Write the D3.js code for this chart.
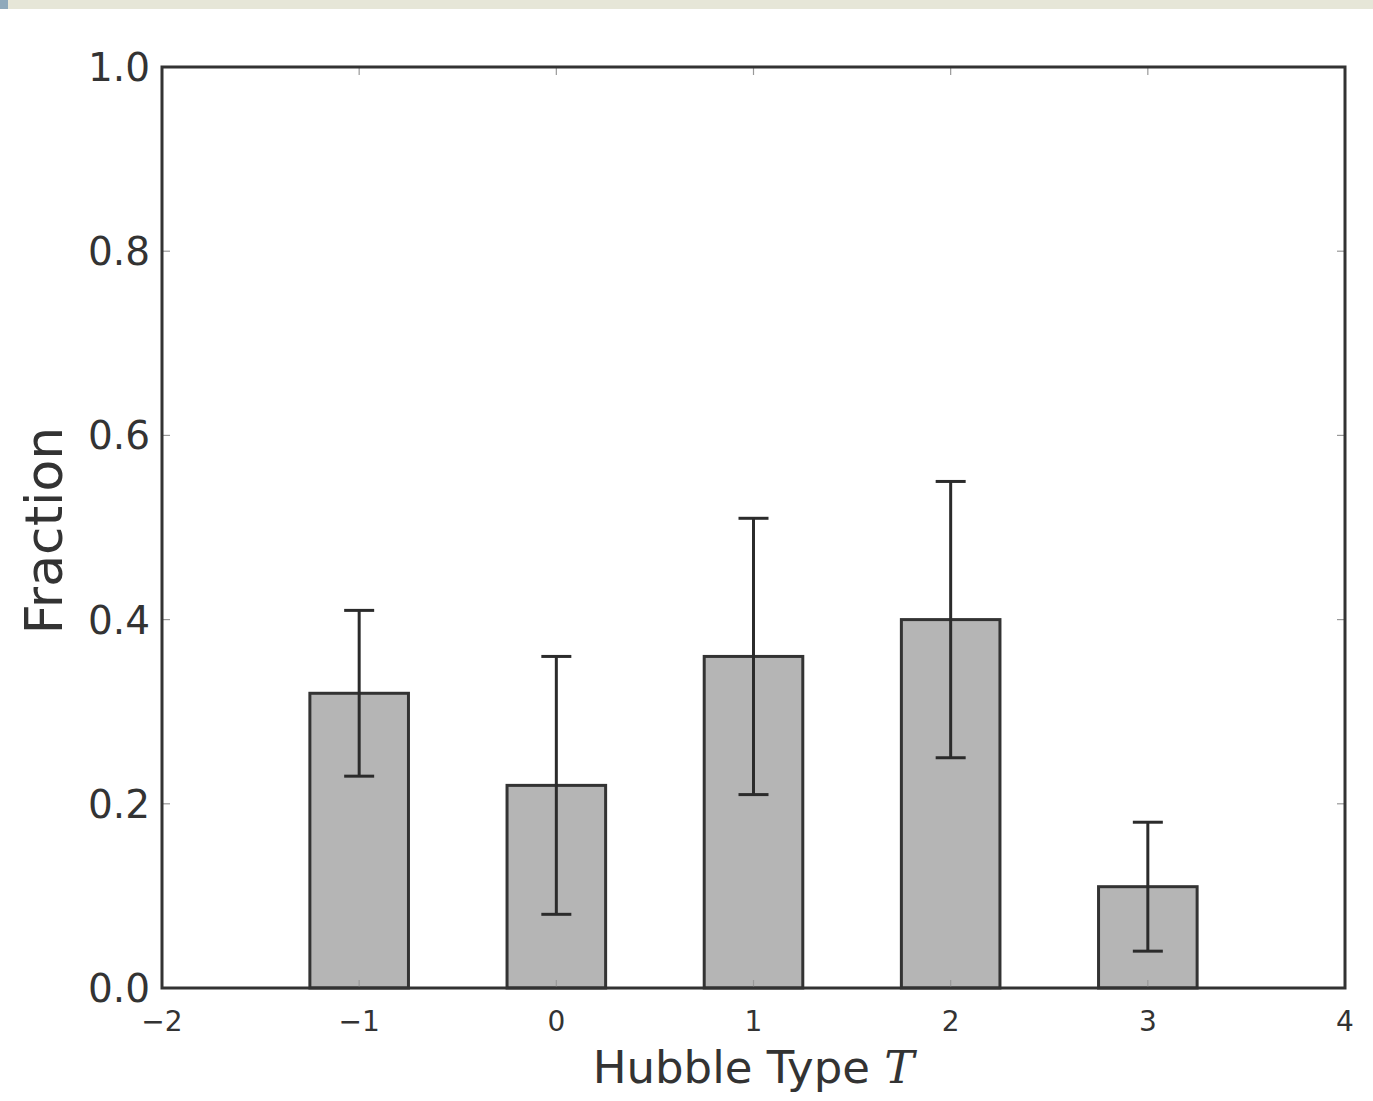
<!DOCTYPE html>
<html>
<head>
<meta charset="utf-8">
<script src="https://cdn.jsdelivr.net/npm/d3@7"></script>
<style>
  body { margin: 0; background: #fff; }
  svg { display: block; font-family: "DejaVu Sans", sans-serif; }
</style>
</head>
<body>
<div id="chart"></div>
<script>
// data
const hubbleTypes = [-1, 0, 1, 2, 3];
const fractions = [0.32, 0.22, 0.36, 0.40, 0.11];
const errLow = [0.23, 0.08, 0.21, 0.25, 0.04];
const errHigh = [0.41, 0.36, 0.51, 0.55, 0.18];
const xTicks = [-2, -1, 0, 1, 2, 3, 4];
const yTicks = [0.0, 0.2, 0.4, 0.6, 0.8, 1.0];

const W = 1373, H = 1101;
const margin = {top: 67, right: 28, bottom: 113, left: 162};
const width = W - margin.left - margin.right;
const height = H - margin.top - margin.bottom;

const svg = d3.select("#chart").append("svg")
    .attr("width", W)
    .attr("height", H);

// decorative strip along the top edge
svg.append("rect")
    .attr("x", 0).attr("y", 0)
    .attr("width", W).attr("height", 9)
    .attr("fill", "#e6e6d8");
svg.append("rect")
    .attr("x", 0).attr("y", 0)
    .attr("width", 8).attr("height", 9)
    .attr("fill", "#8fa9bb");

const g = svg.append("g")
    .attr("transform", `translate(${margin.left},${margin.top})`);

const x = d3.scaleLinear().domain([-2, 4]).range([0, width]);
const y = d3.scaleLinear().domain([0, 1]).range([height, 0]);

const barW = x(0.5) - x(0);
const bars = hubbleTypes.map((t, i) => ({t, v: fractions[i], lo: errLow[i], hi: errHigh[i]}));

// bars
g.selectAll(".bar").data(bars).enter()
    .append("rect")
    .attr("class", "bar")
    .attr("x", d => x(d.t) - barW / 2)
    .attr("y", d => y(d.v))
    .attr("width", barW)
    .attr("height", d => y(0) - y(d.v))
    .attr("fill", "#b5b5b5")
    .attr("stroke", "#333")
    .attr("stroke-width", 3);

// inside ticks, all four sides
const tickLen = 8;
const tickStyle = sel => sel.attr("stroke", "#999").attr("stroke-width", 1.2);
xTicks.forEach(t => {
    g.append("line").attr("x1", x(t)).attr("x2", x(t))
        .attr("y1", height).attr("y2", height - tickLen).call(tickStyle);
    g.append("line").attr("x1", x(t)).attr("x2", x(t))
        .attr("y1", 0).attr("y2", tickLen).call(tickStyle);
});
yTicks.forEach(t => {
    g.append("line").attr("x1", 0).attr("x2", tickLen)
        .attr("y1", y(t)).attr("y2", y(t)).call(tickStyle);
    g.append("line").attr("x1", width).attr("x2", width - tickLen)
        .attr("y1", y(t)).attr("y2", y(t)).call(tickStyle);
});

// error bars
const capW = 15;
const err = g.selectAll(".err").data(bars).enter().append("g")
    .attr("class", "err")
    .attr("stroke", "#2b2b2b")
    .attr("stroke-width", 3);
err.append("line")
    .attr("x1", d => x(d.t)).attr("x2", d => x(d.t))
    .attr("y1", d => y(d.lo)).attr("y2", d => y(d.hi));
err.append("line")
    .attr("x1", d => x(d.t) - capW).attr("x2", d => x(d.t) + capW)
    .attr("y1", d => y(d.lo)).attr("y2", d => y(d.lo));
err.append("line")
    .attr("x1", d => x(d.t) - capW).attr("x2", d => x(d.t) + capW)
    .attr("y1", d => y(d.hi)).attr("y2", d => y(d.hi));

// frame
g.append("rect")
    .attr("width", width).attr("height", height)
    .attr("fill", "none")
    .attr("stroke", "#333")
    .attr("stroke-width", 3);

// tick labels
g.selectAll(".xlab").data(xTicks).enter()
    .append("text")
    .attr("class", "xlab")
    .attr("x", d => x(d))
    .attr("y", height + 43)
    .attr("text-anchor", "middle")
    .attr("font-size", 28)
    .attr("fill", "#333")
    .text(d => d < 0 ? "\u2212" + Math.abs(d) : d);

g.selectAll(".ylab").data(yTicks).enter()
    .append("text")
    .attr("class", "ylab")
    .attr("x", -12)
    .attr("y", d => y(d) + 14)
    .attr("text-anchor", "end")
    .attr("font-size", 39)
    .attr("fill", "#333")
    .text(d => d.toFixed(1));

// axis titles
const xt = g.append("text")
    .attr("x", width / 2)
    .attr("y", height + 95)
    .attr("text-anchor", "middle")
    .attr("font-size", 45)
    .attr("fill", "#333");
xt.append("tspan").text("Hubble Type ");
xt.append("tspan")
    .attr("font-family", "'DejaVu Serif', serif")
    .attr("font-style", "italic")
    .text("T");

g.append("text")
    .attr("transform", `translate(-100,${height / 2 + 3}) rotate(-90)`)
    .attr("text-anchor", "middle")
    .attr("font-size", 52)
    .attr("fill", "#333")
    .text("Fraction");
</script>
</body>
</html>
